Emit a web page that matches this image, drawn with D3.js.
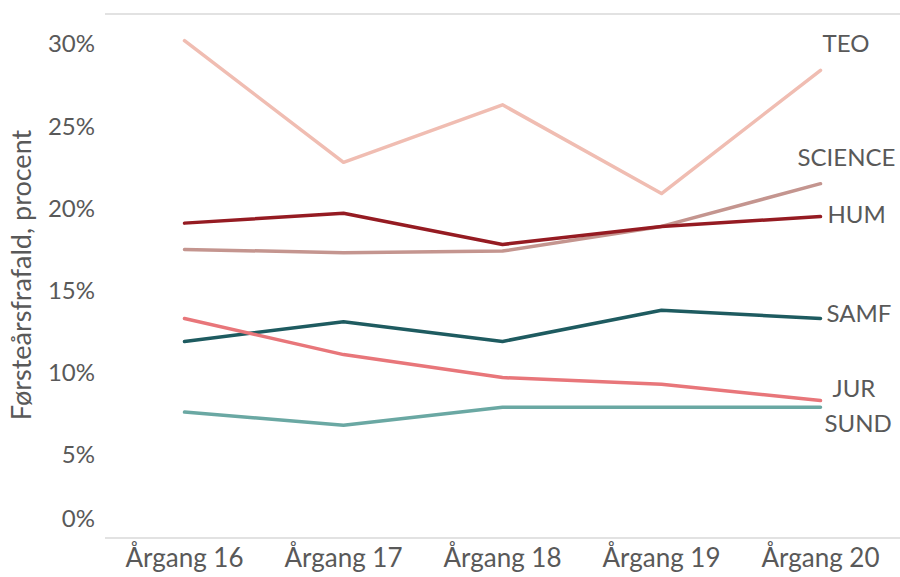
<!DOCTYPE html>
<meta charset="utf-8">
<style>
    body { margin: 0; background: #fff; }
    text { font-family: Lato, "Open Sans", sans-serif; fill: #595959; }
</style>
<svg width="900" height="577"></svg>

<script src="https://d3js.org/d3.v7.min.js"></script>
<script>
    // kohorter og frafald i procent
    var years = ["Årgang 16", "Årgang 17", "Årgang 18", "Årgang 19", "Årgang 20"];
    var yTicks = [0, 5, 10, 15, 20, 25, 30];

    var teo = [30.2, 22.8, 26.3, 20.9, 28.4];
    var science = [17.5, 17.3, 17.4, 18.9, 21.5];
    var hum = [19.1, 19.7, 17.8, 18.9, 19.5];
    var samf = [11.9, 13.1, 11.9, 13.8, 13.3];
    var jur = [13.3, 11.1, 9.7, 9.3, 8.3];
    var sund = [7.6, 6.8, 7.9, 7.9, 7.9];

    (function () {
        var svg = d3.select("svg"),
            left = 105,
            right = 900,
            top = 14,
            bottom = 537;

        var series = [
            {name: "TEO", values: teo, color: "#f0bdb2", dx: 2, dy: -27},
            {name: "SCIENCE", values: science, color: "#c4958f", dx: -23, dy: -26},
            {name: "HUM", values: hum, color: "#951b22", dx: 7, dy: -2},
            {name: "SAMF", values: samf, color: "#1e5b60", dx: 6, dy: -5},
            {name: "JUR", values: jur, color: "#e8767a", dx: 12, dy: -12},
            {name: "SUND", values: sund, color: "#6aa8a3", dx: 4, dy: 16}
        ];

        var x = d3.scaleBand().domain(years).range([left, right]),
            y = d3.scaleLinear().domain([0, 30]).range([bottom, 44]);

        var cx = function (i) {
            return x(years[i]) + x.bandwidth() / 2;
        };

        // top border and category axis line
        svg.append("line")
            .attr("x1", left).attr("x2", right)
            .attr("y1", top).attr("y2", top)
            .attr("stroke", "#d9d9d9").attr("stroke-width", 1.5);

        svg.append("line")
            .attr("x1", left).attr("x2", right)
            .attr("y1", bottom + 1).attr("y2", bottom + 1)
            .attr("stroke", "#d9d9d9").attr("stroke-width", 1.5);

        // y tick labels
        svg.append("g")
            .selectAll("text")
            .data(yTicks)
            .enter()
            .append("text")
            .attr("x", 95)
            .attr("y", function (d) {
                // the 0% label sits above the axis line in the original
                return d === 0 ? y(d) - 18 : y(d);
            })
            .attr("dy", "0.35em")
            .attr("text-anchor", "end")
            .style("font-size", "24px")
            .text(function (d) { return d + "%"; });

        // x tick labels
        svg.append("g")
            .selectAll("text")
            .data(years)
            .enter()
            .append("text")
            .attr("x", function (d, i) { return cx(i); })
            .attr("y", 558)
            .attr("dy", "0.35em")
            .attr("text-anchor", "middle")
            .style("font-size", "26px")
            .text(function (d) { return d; });

        svg.append("text")
            .attr("transform", "translate(22,275) rotate(-90)")
            .attr("dy", "0.35em")
            .attr("text-anchor", "middle")
            .style("font-size", "27px")
            .text("Førsteårsfrafald, procent");

        var line = d3.line()
            .x(function (d, i) { return cx(i); })
            .y(function (d) { return y(d); });

        svg.append("g")
            .selectAll("path")
            .data(series)
            .enter()
            .append("path")
            .attr("d", function (s) { return line(s.values); })
            .attr("fill", "none")
            .attr("stroke", function (s) { return s.color; })
            .attr("stroke-width", 3.5)
            .attr("stroke-linejoin", "round")
            .attr("stroke-linecap", "round");

        svg.append("g")
            .selectAll("text")
            .data(series)
            .enter()
            .append("text")
            .attr("x", function (s) { return cx(4) + s.dx; })
            .attr("y", function (s) { return y(s.values[4]) + s.dy; })
            .attr("dy", "0.35em")
            .style("font-size", "24px")
            .text(function (s) { return s.name; });
    })();
</script>
